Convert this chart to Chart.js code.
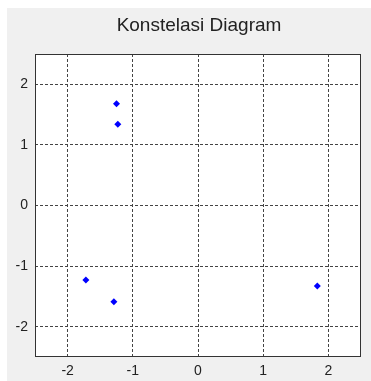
<!DOCTYPE html>
<html>
<head>
<meta charset="utf-8">
<script src="https://cdn.jsdelivr.net/npm/chart.js@4.4.0/dist/chart.umd.min.js"></script>
<style>
  html, body { margin: 0; padding: 0; background: #fff; }
  #wrap { width: 371px; height: 381px; }
</style>
</head>
<body>
<div id="wrap"><canvas id="constChart" width="371" height="381"></canvas></div>
<script>
// Constellation points
const xValues = [-1.25, -1.23, -1.72, -1.29, 1.83];
const yValues = [1.68, 1.34, -1.23, -1.59, -1.33];
const xTicks = [-2, -1, 0, 1, 2];
const yTicks = [-2, -1, 0, 1, 2];
const titleText = 'Konstelasi Diagram';

const points = xValues.map((x, i) => ({ x: x, y: yValues[i] }));

// gray figure background, white axes, title and box
const figurePlugin = {
    id: 'figure',
    beforeDraw(chart) {
        const ctx = chart.ctx;
        const a = chart.chartArea;
        ctx.save();
        ctx.fillStyle = '#ffffff';
        ctx.fillRect(0, 0, chart.width, chart.height);
        ctx.fillStyle = '#f0f0f0';
        ctx.fillRect(7, 8, chart.width - 7, chart.height - 8);
        ctx.fillStyle = '#ffffff';
        ctx.fillRect(a.left, a.top, a.right - a.left, a.bottom - a.top);
        ctx.fillStyle = '#222';
        ctx.font = '19px "Liberation Sans", Arial, sans-serif';
        ctx.textAlign = 'center';
        ctx.textBaseline = 'middle';
        ctx.fillText(titleText, (a.left + a.right) / 2 + 1, 26);
        ctx.restore();
    },
    afterDraw(chart) {
        const ctx = chart.ctx;
        const a = chart.chartArea;
        ctx.save();
        ctx.strokeStyle = '#333';
        ctx.lineWidth = 1;
        ctx.strokeRect(a.left + 0.5, a.top + 0.5, a.right - a.left - 1, a.bottom - a.top - 1);
        ctx.restore();
    }
};

const ctx = document.getElementById('constChart').getContext('2d');
new Chart(ctx, {
    type: 'scatter',
    data: {
        datasets: [{
            data: points,
            backgroundColor: '#0000ff',
            borderColor: '#0000ff',
            pointStyle: 'rectRot',
            pointRadius: 3.5,
            borderWidth: 0
        }]
    },
    options: {
        responsive: false,
        animation: false,
        layout: { padding: { top: 54, left: 0, right: 10, bottom: 0 } },
        plugins: { legend: { display: false }, tooltip: { enabled: false } },
        scales: {
            x: {
                type: 'linear',
                min: -2.5,
                max: 2.5,
                afterBuildTicks: (s) => { s.ticks = xTicks.map(v => ({ value: v })); },
                afterFit: (s) => { s.height = 24; },
                grid: { color: '#444', drawTicks: false },
                border: { display: false, dash: [3, 2] },
                ticks: { color: '#222', padding: 6, font: { size: 14, family: '"Liberation Sans", Arial, sans-serif' } }
            },
            y: {
                type: 'linear',
                min: -2.5,
                max: 2.5,
                afterBuildTicks: (s) => { s.ticks = yTicks.map(v => ({ value: v })); },
                afterFit: (s) => { s.width = 35; },
                grid: { color: '#444', drawTicks: false },
                border: { display: false, dash: [3, 2] },
                ticks: { color: '#222', padding: 7, font: { size: 14, family: '"Liberation Sans", Arial, sans-serif' } }
            }
        }
    },
    plugins: [figurePlugin]
});
</script>
</body>
</html>
